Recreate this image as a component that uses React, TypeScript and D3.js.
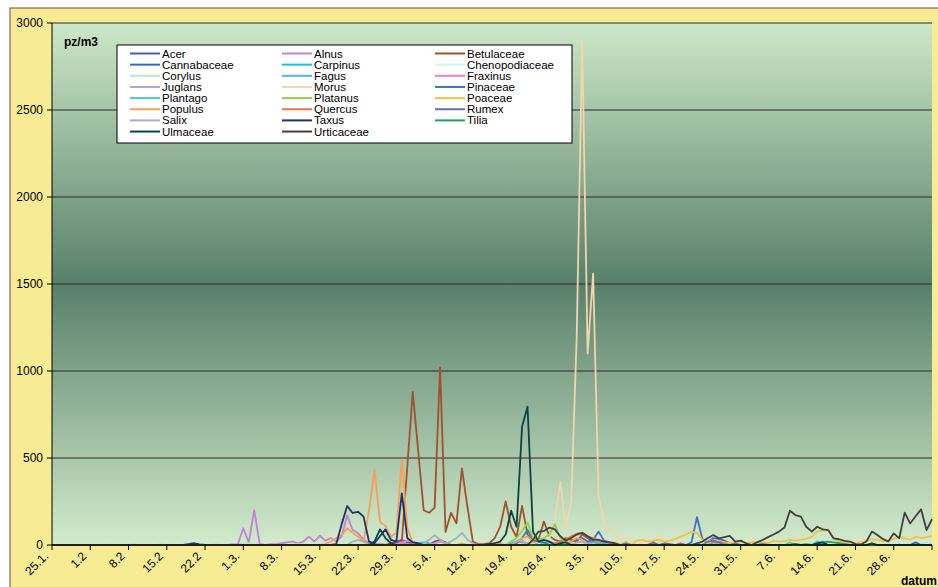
import React from 'react';
import * as d3 from 'd3';

// pollen season 25.1. - 5.7., one value per day; days not listed were 0
const startDay = new Date(2007, 0, 25);
const endDay = new Date(2007, 6, 6);

const tickLabels = ['25.1.', '1.2', '8.2', '15.2', '22.2', '1.3.', '8.3.', '15.3.', '22.3.', '29.3.', '5.4.', '12.4.',
  '19.4.', '26.4.', '3.5.', '10.5.', '17.5.', '24.5.', '31.5.', '7.6.', '14.6.', '21.6.', '28.6.', ''];
const yTicks = [0, 500, 1000, 1500, 2000, 2500, 3000];

const seriesNames = ['Acer', 'Alnus', 'Betulaceae', 'Cannabaceae', 'Carpinus', 'Chenopodiaceae', 'Corylus', 'Fagus',
  'Fraxinus', 'Juglans', 'Morus', 'Pinaceae', 'Plantago', 'Platanus', 'Poaceae', 'Populus', 'Quercus', 'Rumex',
  'Salix', 'Taxus', 'Tilia', 'Ulmaceae', 'Urticaceae'];
const seriesColors = ['#4a5cb0', '#c283d4', '#a0522d', '#2f6cc0', '#1ec0e4', '#d4f2f8', '#bfe6bf', '#52b2f0',
  '#f283b4', '#b0a2e2', '#f4d4ac', '#3f72c4', '#4ec8c8', '#92d050', '#f8c040', '#f8a050', '#f07040', '#6070b0',
  '#a2b2ba', '#203070', '#22a060', '#0a4444', '#404040'];

const acer = [[62, 10], [63, 20], [64, 30], [65, 15], [66, 10], [70, 20], [71, 30], [72, 15]];
const alnus = [[33, 3], [34, 5], [35, 96], [36, 15], [37, 200], [38, 5], [40, 5], [41, 5], [42, 10], [43, 15], [44, 20],
  [45, 10], [46, 20], [47, 48], [48, 20], [49, 53], [50, 25], [51, 40], [52, 20], [53, 50], [54, 170], [55, 86],
  [56, 67], [57, 30], [58, 10], [59, 5], [64, 10], [65, 5]];
const betulaceae = [[35, 5], [36, 8], [60, 5], [62, 5], [63, 10], [64, 20], [65, 450], [66, 880], [67, 540], [68, 200],
  [69, 185], [70, 215], [71, 1020], [72, 75], [73, 185], [74, 125], [75, 440], [76, 220], [77, 20], [78, 5], [79, 5],
  [80, 10], [81, 40], [82, 105], [83, 250], [84, 105], [85, 45], [86, 225], [87, 60], [88, 20], [89, 30], [90, 135],
  [91, 50], [92, 30], [93, 20], [94, 40], [95, 30], [96, 20], [97, 60], [98, 40], [99, 20], [100, 10], [101, 5]];
const cannabaceae = [[150, 5], [155, 10], [158, 15], [160, 10]];
const carpinus = [[66, 5], [67, 10], [68, 15], [69, 10], [84, 10], [85, 20], [86, 15], [87, 10]];
const chenopodiaceae = [[140, 5], [145, 10], [150, 10], [155, 15], [160, 10]];
const corylus = [[10, 3], [15, 5], [20, 5], [30, 5], [35, 10], [36, 10], [37, 5], [45, 5]];
const fagus = [[90, 10], [91, 15], [92, 10], [98, 10], [99, 15], [100, 20], [101, 10]];
const fraxinus = [[63, 5], [64, 15], [65, 25], [66, 20], [67, 10], [70, 10], [71, 20], [72, 10], [85, 15], [86, 20], [87, 10]];
const juglans = [[88, 10], [89, 20], [90, 30], [91, 20], [92, 10], [96, 15], [97, 20], [98, 10]];
const morus = [[88, 10], [89, 15], [90, 20], [91, 40], [92, 140], [93, 364], [94, 90], [95, 250], [96, 1200], [97, 2890],
  [98, 1100], [99, 1560], [100, 280], [101, 130], [102, 90], [103, 60], [104, 30], [105, 40], [106, 25], [107, 20],
  [108, 15], [109, 30], [110, 20], [111, 57], [112, 20], [113, 15], [114, 30], [115, 20], [116, 10]];
const pinaceae = [[85, 10], [86, 40], [87, 86], [88, 30], [89, 20], [90, 15], [95, 20], [96, 30], [97, 40], [98, 20],
  [99, 30], [100, 77], [101, 25], [102, 15], [103, 10], [110, 5], [112, 10], [113, 5], [117, 15], [118, 160], [119, 35],
  [120, 15], [121, 40], [122, 35], [123, 25], [124, 10]];
const plantago = [[100, 5], [105, 10], [110, 10], [118, 10], [122, 15], [125, 10], [130, 10], [135, 15], [140, 20],
  [141, 15], [145, 10], [150, 10]];
const platanus = [[84, 20], [85, 40], [86, 80], [87, 130], [88, 40], [89, 30], [90, 40], [91, 60], [92, 120], [93, 40],
  [94, 20], [95, 10]];
const poaceae = [[95, 10], [100, 10], [103, 15], [105, 20], [107, 25], [108, 30], [109, 20], [110, 25], [111, 29],
  [112, 20], [113, 25], [114, 35], [115, 48], [116, 60], [117, 77], [118, 70], [119, 29], [120, 20], [121, 25],
  [122, 20], [123, 15], [124, 10], [125, 15], [126, 20], [127, 10], [128, 15], [129, 20], [130, 15], [131, 10],
  [132, 25], [133, 20], [134, 23], [135, 30], [136, 25], [137, 29], [138, 35], [139, 48], [140, 77], [141, 85],
  [142, 90], [143, 40], [144, 20], [145, 15], [146, 15], [147, 10], [148, 15], [149, 25], [150, 33], [151, 30],
  [152, 20], [153, 25], [154, 35], [155, 48], [156, 40], [157, 30], [158, 48], [159, 40], [160, 45], [161, 52]];
const populus = [[50, 5], [51, 20], [52, 40], [53, 60], [54, 96], [55, 70], [56, 48], [57, 20], [58, 200], [59, 431],
  [60, 134], [61, 110], [62, 48], [63, 70], [64, 490], [65, 100], [66, 10], [67, 5], [70, 5], [75, 10], [82, 10],
  [85, 20], [86, 40], [87, 50], [88, 20], [95, 20], [96, 40], [97, 30]];
const quercus = [[92, 10], [93, 20], [94, 30], [95, 50], [96, 65], [97, 70], [98, 50], [99, 40], [100, 30], [101, 20],
  [102, 10], [121, 15], [122, 20], [123, 10]];
const rumex = [[100, 5], [105, 10], [110, 15], [115, 10], [120, 20], [121, 25], [122, 15], [125, 10], [130, 5]];
const salix = [[55, 20], [56, 30], [57, 20], [60, 10], [68, 10], [69, 30], [70, 57], [71, 30], [72, 10], [73, 20],
  [74, 40], [75, 70], [76, 30], [77, 10], [85, 20], [86, 30]];
const taxus = [[25, 5], [26, 10], [27, 3], [52, 5], [53, 120], [54, 224], [55, 184], [56, 191], [57, 163], [58, 20],
  [59, 10], [60, 50], [61, 90], [62, 30], [63, 20], [64, 297], [65, 40], [66, 15], [67, 10]];
const tilia = [[138, 5], [140, 10], [141, 15], [142, 20], [143, 15], [144, 10], [145, 5]];
const ulmaceae = [[59, 20], [60, 90], [61, 40], [62, 10], [80, 5], [81, 10], [82, 20], [83, 60], [84, 197], [85, 105],
  [86, 680], [87, 795], [88, 77], [89, 20], [90, 30], [91, 20], [93, 10], [94, 15], [136, 5], [140, 10], [141, 15], [150, 10]];
const urticaceae = [[88, 30], [89, 77], [90, 80], [91, 100], [92, 90], [93, 50], [94, 25], [95, 40], [96, 60], [97, 70],
  [98, 50], [99, 30], [100, 30], [101, 20], [102, 15], [103, 10], [118, 10], [119, 20], [120, 40], [121, 57], [122, 38],
  [123, 45], [124, 52], [125, 20], [126, 25], [127, 10], [129, 15], [130, 29], [131, 45], [132, 60], [133, 77],
  [134, 100], [135, 197], [136, 172], [137, 163], [138, 105], [139, 77], [140, 105], [141, 90], [142, 86], [143, 38],
  [144, 33], [145, 24], [146, 20], [147, 5], [148, 3], [149, 20], [150, 77], [151, 57], [152, 35], [153, 20], [154, 67],
  [155, 38], [156, 186], [157, 124], [158, 165], [159, 205], [160, 86], [161, 148]];

const seriesData = [acer, alnus, betulaceae, cannabaceae, carpinus, chenopodiaceae, corylus, fagus, fraxinus, juglans,
  morus, pinaceae, plantago, platanus, poaceae, populus, quercus, rumex, salix, taxus, tilia, ulmaceae, urticaceae];

const font = 'Arial, "Liberation Sans", sans-serif';

export default function App() {
  const width = 938;
  const height = 587;
  const left = 52, right = 932, top = 23, bottom = 545;

  const days = d3.timeDay.range(startDay, endDay);
  const x = d3.scaleTime().domain([days[0], days[days.length - 1]]).range([left, right]);
  const y = d3.scaleLinear().domain([0, 3000]).range([bottom, top]);
  const tickDays = d3.range(0, days.length, 7).map(i => days[i]);

  const line = d3.line<number>()
    .x((d, i) => x(days[i]))
    .y(d => y(d));

  const daily = (pts: number[][]) => {
    const v = days.map(() => 0);
    pts.forEach(p => { v[p[0]] = p[1]; });
    return v;
  };

  return (
    <svg width={width} height={height} style={{ position: 'absolute', left: 0, top: 0, background: '#fff' }}>
      <defs>
        <linearGradient id="plotbg" x1="0" y1="0" x2="0" y2="1">
          <stop offset="0" stopColor="#cde8c8" />
          <stop offset="0.5" stopColor="#58806a" />
          <stop offset="1" stopColor="#d3ebcc" />
        </linearGradient>
        <clipPath id="plotclip">
          <rect x={left} y={top - 5} width={right - left + 3} height={bottom - top + 8} />
        </clipPath>
      </defs>
      <rect x={10} y={8} width={940} height={600} fill="#f7eb93" stroke="#7a4a3a" strokeWidth={1} />
      <rect x={left} y={top} width={right - left} height={bottom - top} fill="url(#plotbg)" />

      {yTicks.filter(t => t > 0).map(t => (
        <line key={t} x1={left} x2={right} y1={y(t)} y2={y(t)} stroke="#2a2a2a" strokeWidth={1} />
      ))}

      <g clipPath="url(#plotclip)">
        {seriesData.map((s, i) => (
          <path key={seriesNames[i]} d={line(daily(s)) || ''} fill="none" stroke={seriesColors[i]}
            strokeWidth={1.8} strokeLinejoin="round" />
        ))}
      </g>

      <line x1={left} x2={left} y1={top} y2={bottom} stroke="#000" />
      <line x1={left} x2={right} y1={bottom} y2={bottom} stroke="#000" />
      {yTicks.map(t => (
        <g key={t}>
          <line x1={left - 5} x2={left} y1={y(t)} y2={y(t)} stroke="#000" />
          <text x={left - 9} y={y(t) + 4} textAnchor="end" fontFamily={font} fontSize={12}>{t}</text>
        </g>
      ))}
      {tickDays.map((d, i) => (
        <g key={i}>
          <line x1={x(d)} x2={x(d)} y1={bottom} y2={bottom + 5} stroke="#000" />
          <text transform={`translate(${x(d) - 3},${bottom + 12}) rotate(-45)`} textAnchor="end"
            fontFamily={font} fontSize={12}>{tickLabels[i]}</text>
        </g>
      ))}

      <text x={64} y={46} fontFamily={font} fontSize={12} fontWeight="bold">pz/m3</text>
      <text x={937} y={585} textAnchor="end" fontFamily={font} fontSize={12} fontWeight="bold">datum</text>

      <g>
        <rect x={117} y={45} width={455} height={98} fill="#fff" stroke="#000" strokeWidth={1} />
        {seriesNames.map((n, i) => {
          const col = i % 3;
          const row = Math.floor(i / 3);
          const lx = [130, 282, 435][col];
          const ly = 53.5 + row * 11.15;
          return (
            <g key={n}>
              <line x1={lx} x2={lx + 30} y1={ly} y2={ly} stroke={seriesColors[i]} strokeWidth={2} />
              <text x={lx + 32} y={ly + 4} fontFamily={font} fontSize={11.5}>{n}</text>
            </g>
          );
        })}
      </g>
    </svg>
  );
}
